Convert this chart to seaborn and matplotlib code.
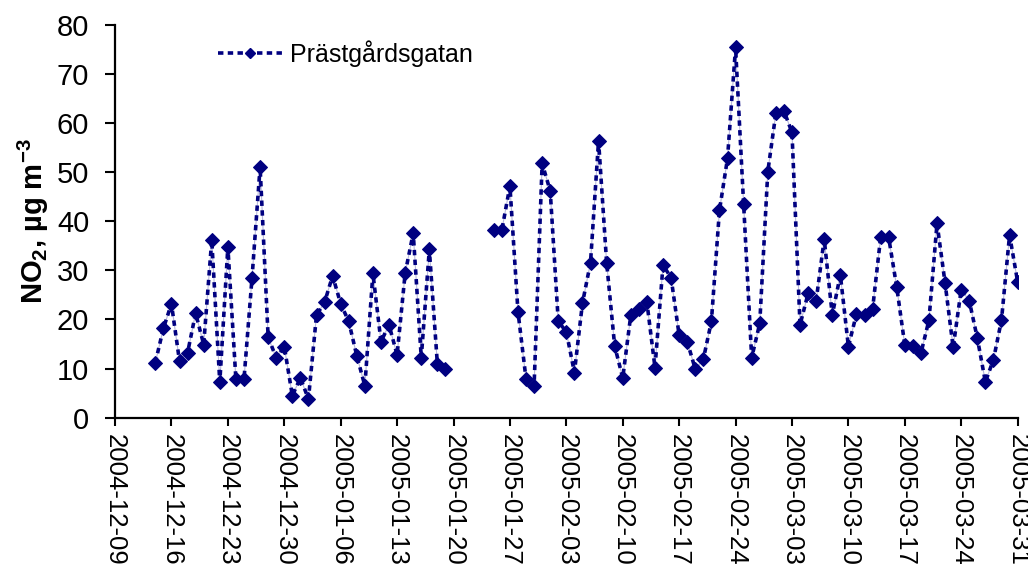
import numpy as np
import pandas as pd
import matplotlib
matplotlib.use("Agg")
import matplotlib.pyplot as plt
from matplotlib.lines import Line2D
import seaborn as sns

# --- data -------------------------------------------------------------
start1 = "2004-12-14"
values1 = [11.2, 18.2, 23.2, 11.5, 13.2, 21.3, 14.9, 36.2, 7.2, 34.8,
           7.8, 7.8, 28.5, 51.1, 16.4, 12.2, 14.5, 4.5, 8.1, 3.8,
           20.9, 23.5, 28.9, 23.2, 19.6, 12.6, 6.5, 29.4, 15.5, 18.9,
           12.8, 29.4, 37.6, 12.2, 34.3, 10.9, 9.9]
start2 = "2005-01-25"
values2 = [38.2, 38.2, 47.2, 21.6, 7.9, 6.5, 51.8, 46.2, 19.6, 17.5,
           9.2, 23.3, 31.6, 56.4, 31.6, 14.6, 8.1, 20.9, 22.1, 23.5,
           10.2, 31.1, 28.5, 16.8, 15.5, 9.9, 11.9, 19.6, 42.2, 52.8,
           75.4, 43.5, 12.2, 19.2, 50.1, 62.0, 62.5, 58.1, 18.9, 25.3,
           23.8, 36.4, 20.9, 29.1, 14.5, 21.1, 20.9, 22.1, 36.7, 36.7,
           26.6, 14.8, 14.6, 13.1, 19.9, 39.6, 27.4, 14.3, 26.1, 23.8,
           16.2, 7.3, 11.8, 19.9, 37.2, 27.7]
series_name = "Prästgårdsgatan"
ylabel = r"NO$_\mathbf{2}$, µg m$^\mathbf{-3}$"
tick_start, tick_end = "2004-12-09", "2005-03-31"

segments = [
    pd.DataFrame({"date": pd.date_range(start1, periods=len(values1), freq="D"),
                  "NO2": values1}),
    pd.DataFrame({"date": pd.date_range(start2, periods=len(values2), freq="D"),
                  "NO2": values2}),
]

# --- plot -------------------------------------------------------------
sns.set_theme(style="white")
plt.rcParams["font.family"] = ["Liberation Sans", "DejaVu Sans"]
plt.rcParams["mathtext.fontset"] = "custom"
plt.rcParams["mathtext.rm"] = "Liberation Sans"
plt.rcParams["mathtext.bf"] = "Liberation Sans:bold"
plt.rcParams["text.color"] = "black"
plt.rcParams["axes.labelcolor"] = "black"
plt.rcParams["xtick.color"] = "black"
plt.rcParams["ytick.color"] = "black"

fig = plt.figure(figsize=(10.28, 5.69), dpi=100)
ax = fig.add_axes([0.1119, 0.2659, 0.878, 0.6904])

navy = "#000080"
dots = (0, (1.5, 1.2))
for seg in segments:
    sns.lineplot(data=seg, x="date", y="NO2", ax=ax, color="#b8b8dc", lw=0.8,
                 legend=False, zorder=1)
    sns.lineplot(data=seg, x="date", y="NO2", ax=ax, color=navy, lw=2.6,
                 linestyle=dots, marker="D", markersize=7.5,
                 markeredgecolor=navy, markerfacecolor=navy, legend=False,
                 zorder=3)

ax.set_xlim(pd.Timestamp(tick_start), pd.Timestamp(tick_end))
ax.set_ylim(0, 80)
ax.set_yticks(np.arange(0, 81, 10))
ticks = pd.date_range(tick_start, tick_end, freq="7D")
ax.set_xticks(ticks)
ax.set_xticklabels([t.strftime("%Y-%m-%d") for t in ticks], rotation=-90,
                   fontsize=18.5)
ax.tick_params(axis="y", labelsize=21, length=7.5, width=1.5, direction="out",
               left=True, pad=11, colors="black")
ax.tick_params(axis="x", length=6, width=1.5, direction="out", bottom=True,
               pad=6, colors="black")
for s in ["top", "right"]:
    ax.spines[s].set_visible(False)
for s in ["left", "bottom"]:
    ax.spines[s].set_color("black")
    ax.spines[s].set_linewidth(1.6)

ax.set_xlabel("")
ax.set_ylabel(ylabel, fontsize=21, fontweight="bold", labelpad=4)

h = Line2D([], [], color=navy, lw=2.6, linestyle=dots, marker="D",
           markersize=5, markeredgecolor=navy, markerfacecolor=navy)
ax.legend([h], [series_name], loc="upper left",
          bbox_to_anchor=(0.097, 1.0), frameon=False, fontsize=18,
          handlelength=2.6, handletextpad=0.3, borderaxespad=0.2)

fig.savefig("out.png", dpi=100)
